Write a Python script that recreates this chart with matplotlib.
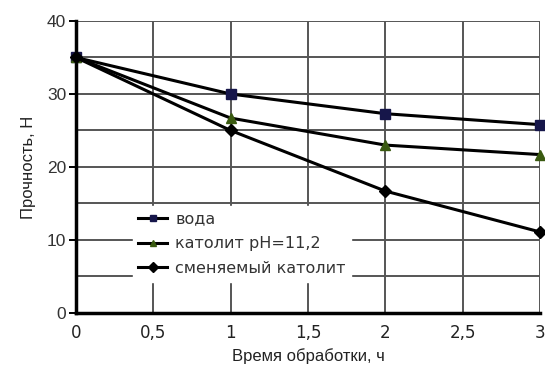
import matplotlib
matplotlib.use("Agg")
import matplotlib.pyplot as plt
from matplotlib.ticker import FuncFormatter

hours = [0, 1, 2, 3]
voda = [35, 30, 27.3, 25.8]
katolit = [35, 26.7, 23.0, 21.7]
smen = [35, 25.0, 16.7, 11.1]
labels = ["вода", "католит pH=11,2", "сменяемый католит"]
xticks = [0, 0.5, 1, 1.5, 2, 2.5, 3]
yticks = [0, 10, 20, 30, 40]

fig = plt.figure(figsize=(5.45, 3.72), dpi=100)
ax = fig.add_axes([0.1394, 0.1586, 0.8516, 0.785])

ax.set_xlim(0, 3)
ax.set_ylim(0, 40)
ax.set_xticks(xticks)
ax.set_yticks(yticks)
ax.set_yticks([5, 15, 25, 35], minor=True)
ax.grid(True, which="both", color="#555555", linewidth=1.4)
ax.set_axisbelow(True)

ax.xaxis.set_major_formatter(FuncFormatter(lambda v, p: ("%g" % v).replace(".", ",")))
ax.tick_params(axis="x", labelsize=12, length=0, pad=8, labelcolor="#222222")
ax.tick_params(axis="y", labelsize=12.5, length=5, width=1.4, pad=2, which="major",
               labelcolor="#333333")
ax.tick_params(axis="y", which="minor", length=0)
for t in ax.get_xticklabels():
    t.set_family("DejaVu Sans")
for t in ax.get_yticklabels():
    t.set_family("Liberation Sans")

for s in ["top", "right"]:
    ax.spines[s].set_visible(False)
ax.spines["left"].set_linewidth(2.5)
ax.spines["bottom"].set_linewidth(2.5)

kw = dict(color="black", linewidth=2.2, clip_on=False, zorder=5)
ax.plot(hours, voda, marker="s", markersize=6.5, markerfacecolor="#16164a",
        markeredgecolor="#16164a", label=labels[0], **kw)
ax.plot(hours, katolit, marker="^", markersize=6.5, markerfacecolor="#3a5a10",
        markeredgecolor="#3a5a10", label=labels[1], **kw)
ax.plot(hours, smen, marker="D", markersize=6.5, markerfacecolor="black",
        markeredgecolor="black", label=labels[2], **kw)

leg = ax.legend(loc="lower left", bbox_to_anchor=(0.105, 0.08), frameon=True,
                fancybox=False, framealpha=1, edgecolor="white",
                prop={"family": "DejaVu Sans", "size": 11.5},
                handlelength=1.8, handletextpad=0.5, labelspacing=0.62,
                borderpad=0.35, markerscale=0.75)
for t in leg.get_texts():
    t.set_color("#333333")
leg.set_zorder(6)

ax.set_xlabel("Время обработки, ч", fontsize=12, family="Liberation Sans", labelpad=4,
              color="#222222")
ax.set_ylabel("Прочность, Н", fontsize=12, family="Liberation Sans", labelpad=8,
              color="#222222")

fig.savefig("out.png", dpi=100)
